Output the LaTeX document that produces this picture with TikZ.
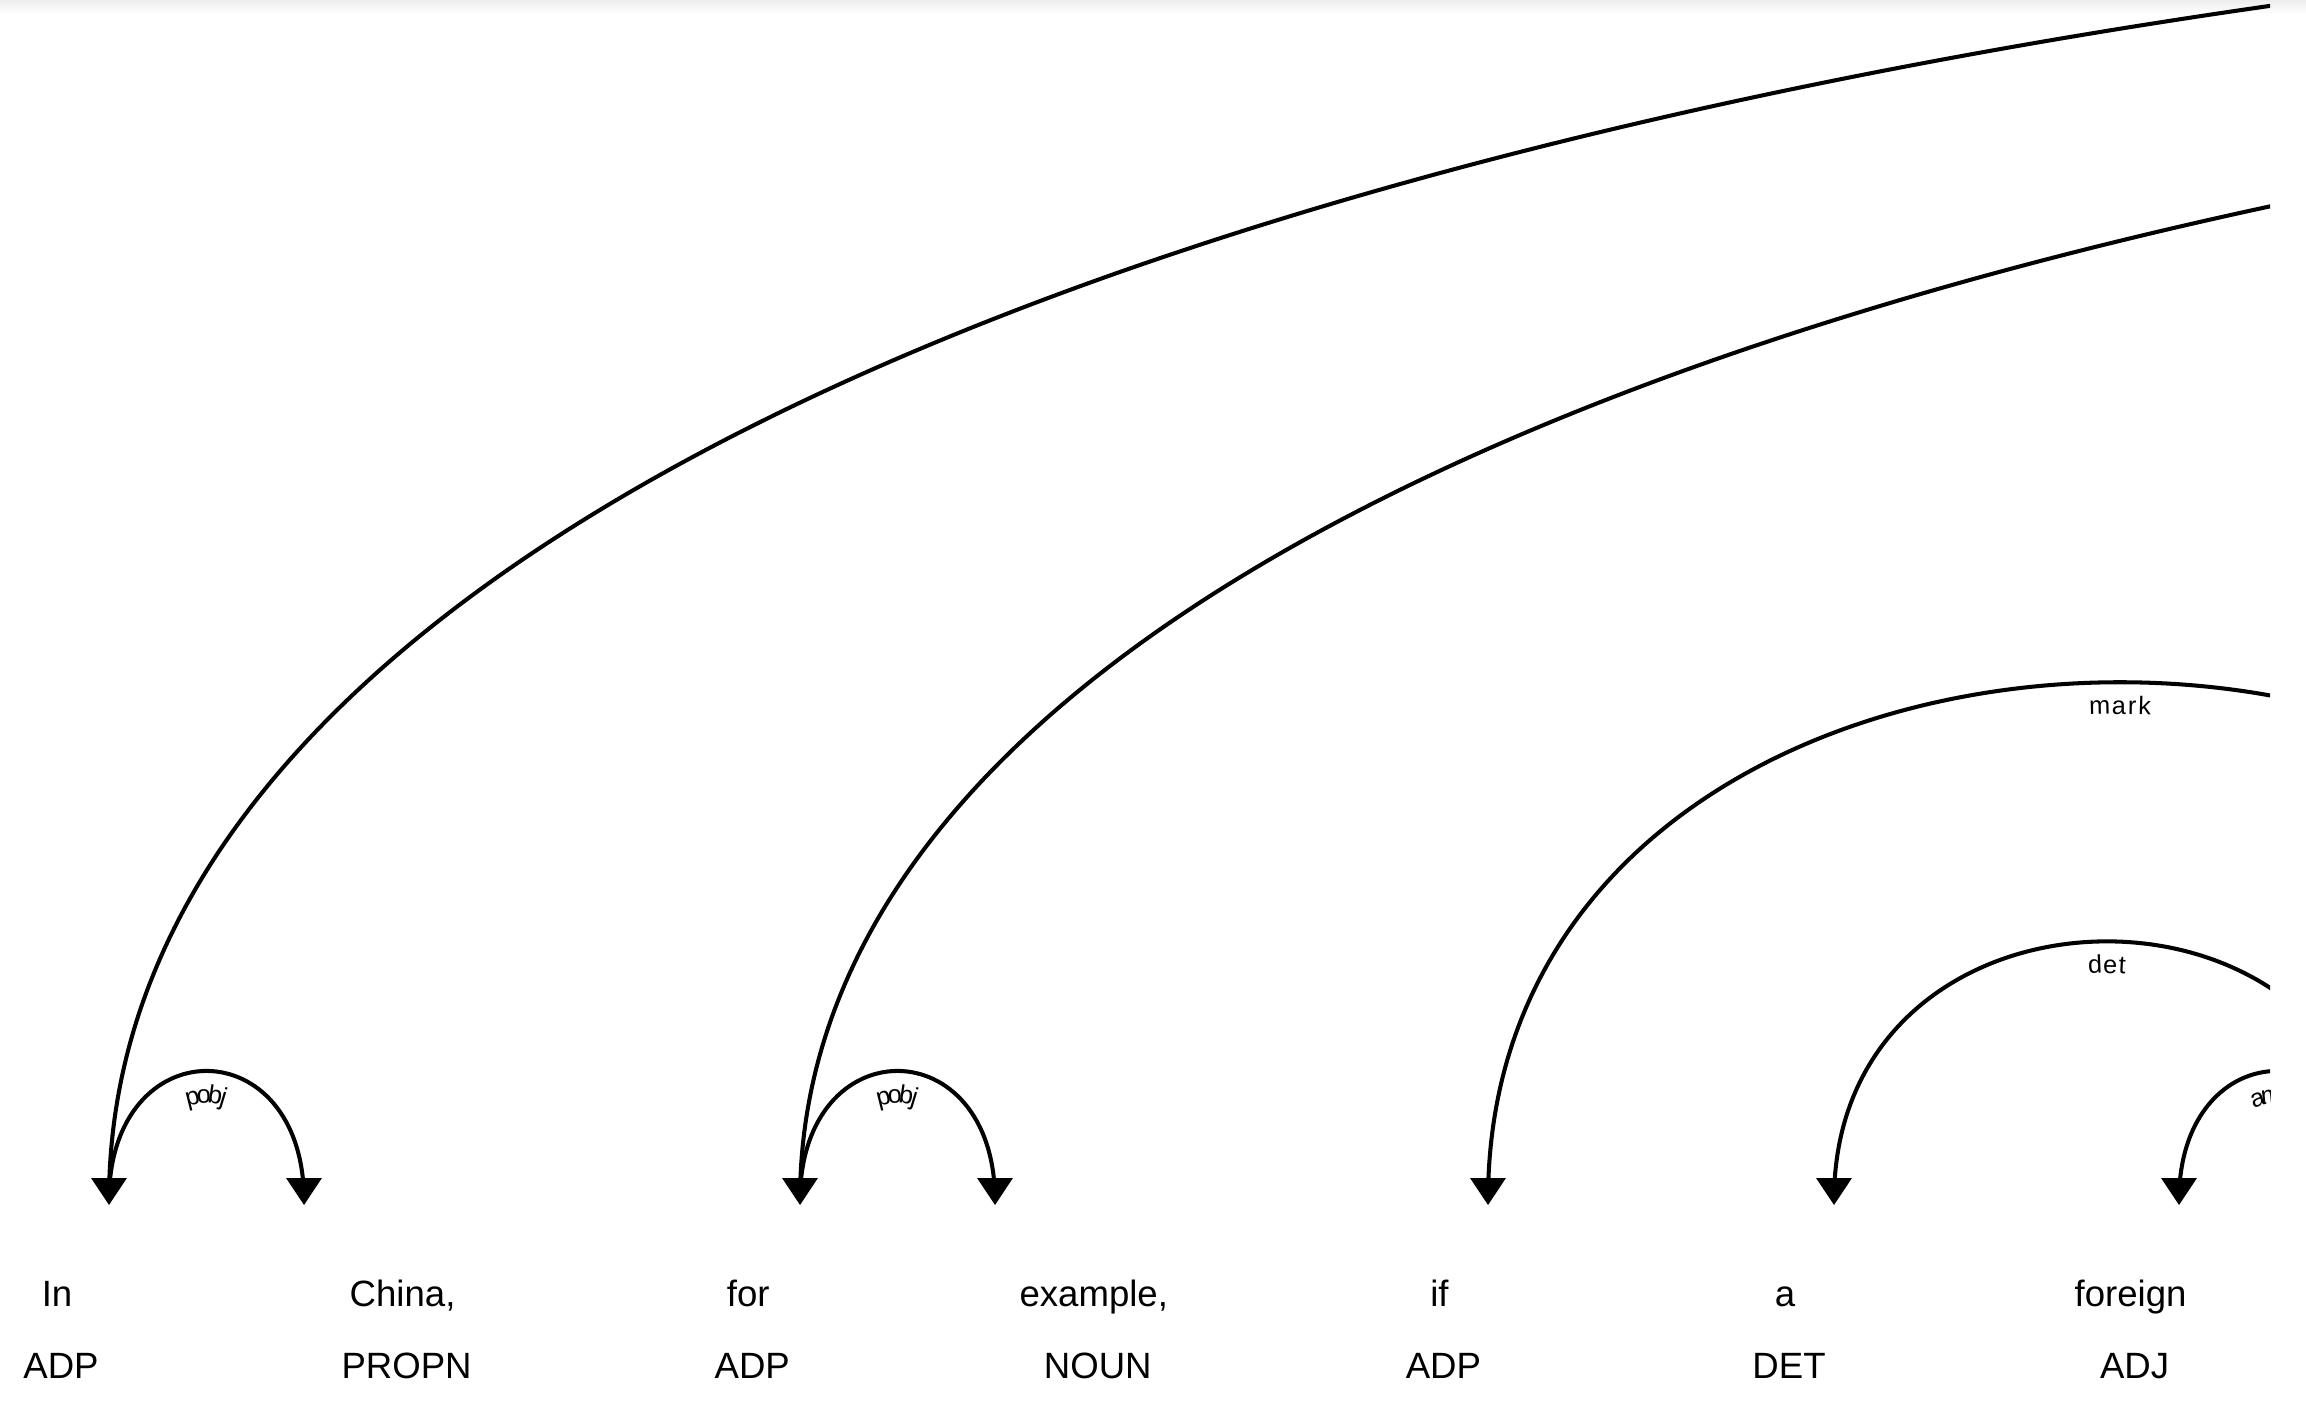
\documentclass[tikz,border=0pt]{standalone}
\usepackage{fontspec}
\setmainfont{Liberation Sans}
\usetikzlibrary{decorations.text}
\newcommand\arclabfont{\fontsize{7.2}{8}\selectfont}
\newcommand\deptip[1]{\fill[tipfill] (#1) ++(0,4.5) -- ++(-17.9,-26.9) -- ++(35.8,0) -- cycle;}
\begin{document}
\begin{tikzpicture}[x=0.01cm,y=-0.01cm,
  word/.style={anchor=base, inner sep=0pt, font=\fontsize{10.4}{12}\selectfont},
  deparc/.style={line width=1.15pt, black},
  tipfill/.style={fill=black},
  arclabel/.style={postaction={decorate, decoration={text effects along path, text={#1}, text align=center, raise=-0.32cm,
     text effects/.cd, text along path, every character/.style={font=\arclabfont, inner sep=0pt},
     character widths={font=\arclabfont, inner sep=0pt, inner xsep=0.32pt}}}}
]
\useasboundingbox (0,0) rectangle (2306,1404);
\fill[white] (0,0) rectangle (2306,1404);
\shade[top color=black!7, bottom color=white] (0,0) rectangle (2306,14);

% words and tags
\node[word] (w0) at (57,1306) {In};
\node[word] (w1) at (402.6,1306) {China,};
\node[word] (w2) at (748.2,1306) {for};
\node[word] (w3) at (1093.8,1306) {example,};
\node[word] (w4) at (1439.4,1306) {if};
\node[word] (w5) at (1785,1306) {a};
\node[word] (w6) at (2130.6,1306) {foreign};
\node[word] (t0) at (61,1378) {ADP};
\node[word] (t1) at (406.6,1378) {PROPN};
\node[word] (t2) at (752.2,1378) {ADP};
\node[word] (t3) at (1097.8,1378) {NOUN};
\node[word] (t4) at (1443.4,1378) {ADP};
\node[word] (t5) at (1789,1378) {DET};
\node[word] (t6) at (2134.6,1378) {ADJ};

% arc feet
\coordinate (a0) at (109,1200.5);
\coordinate (b1) at (304,1200.5);
\coordinate (a2) at (800,1200.5);
\coordinate (b3) at (995,1200.5);
\coordinate (a4) at (1488,1200.5);
\coordinate (a5) at (1834,1200.5);
\coordinate (a6) at (2179,1200.5);
\coordinate (hIn) at (7409,1200.5);
\coordinate (hFor) at (7300,1200.5);
\coordinate (hMark) at (2752,1200.5);
\coordinate (hDet) at (2380,1200.5);
\coordinate (hAmod) at (2375,1200.5);

\begin{scope}
\clip (0,0) rectangle (2270,1404);
\draw[deparc] (a0) .. controls (109,-527) and (7409,-527) .. (hIn);
\draw[deparc] (a2) .. controls (800,-354.25) and (7300,-354.25) .. (hFor);
\draw[deparc, arclabel=pobj] (a0) .. controls (109,1027.75) and (304,1027.75) .. (b1);
\draw[deparc, arclabel=pobj] (a2) .. controls (800,1027.75) and (995,1027.75) .. (b3);
\draw[deparc, arclabel=mark] (a4) .. controls (1488,509.5) and (2752,509.5) .. (hMark);
\draw[deparc, arclabel=det] (a5) .. controls (1834,855) and (2380,855) .. (hDet);
\draw[deparc, arclabel=amod] (a6) .. controls (2179,1027.75) and (2375,1027.75) .. (hAmod);
\deptip{a0}
\deptip{b1}
\deptip{a2}
\deptip{b3}
\deptip{a4}
\deptip{a5}
\deptip{a6}
\end{scope}
\end{tikzpicture}
\end{document}
